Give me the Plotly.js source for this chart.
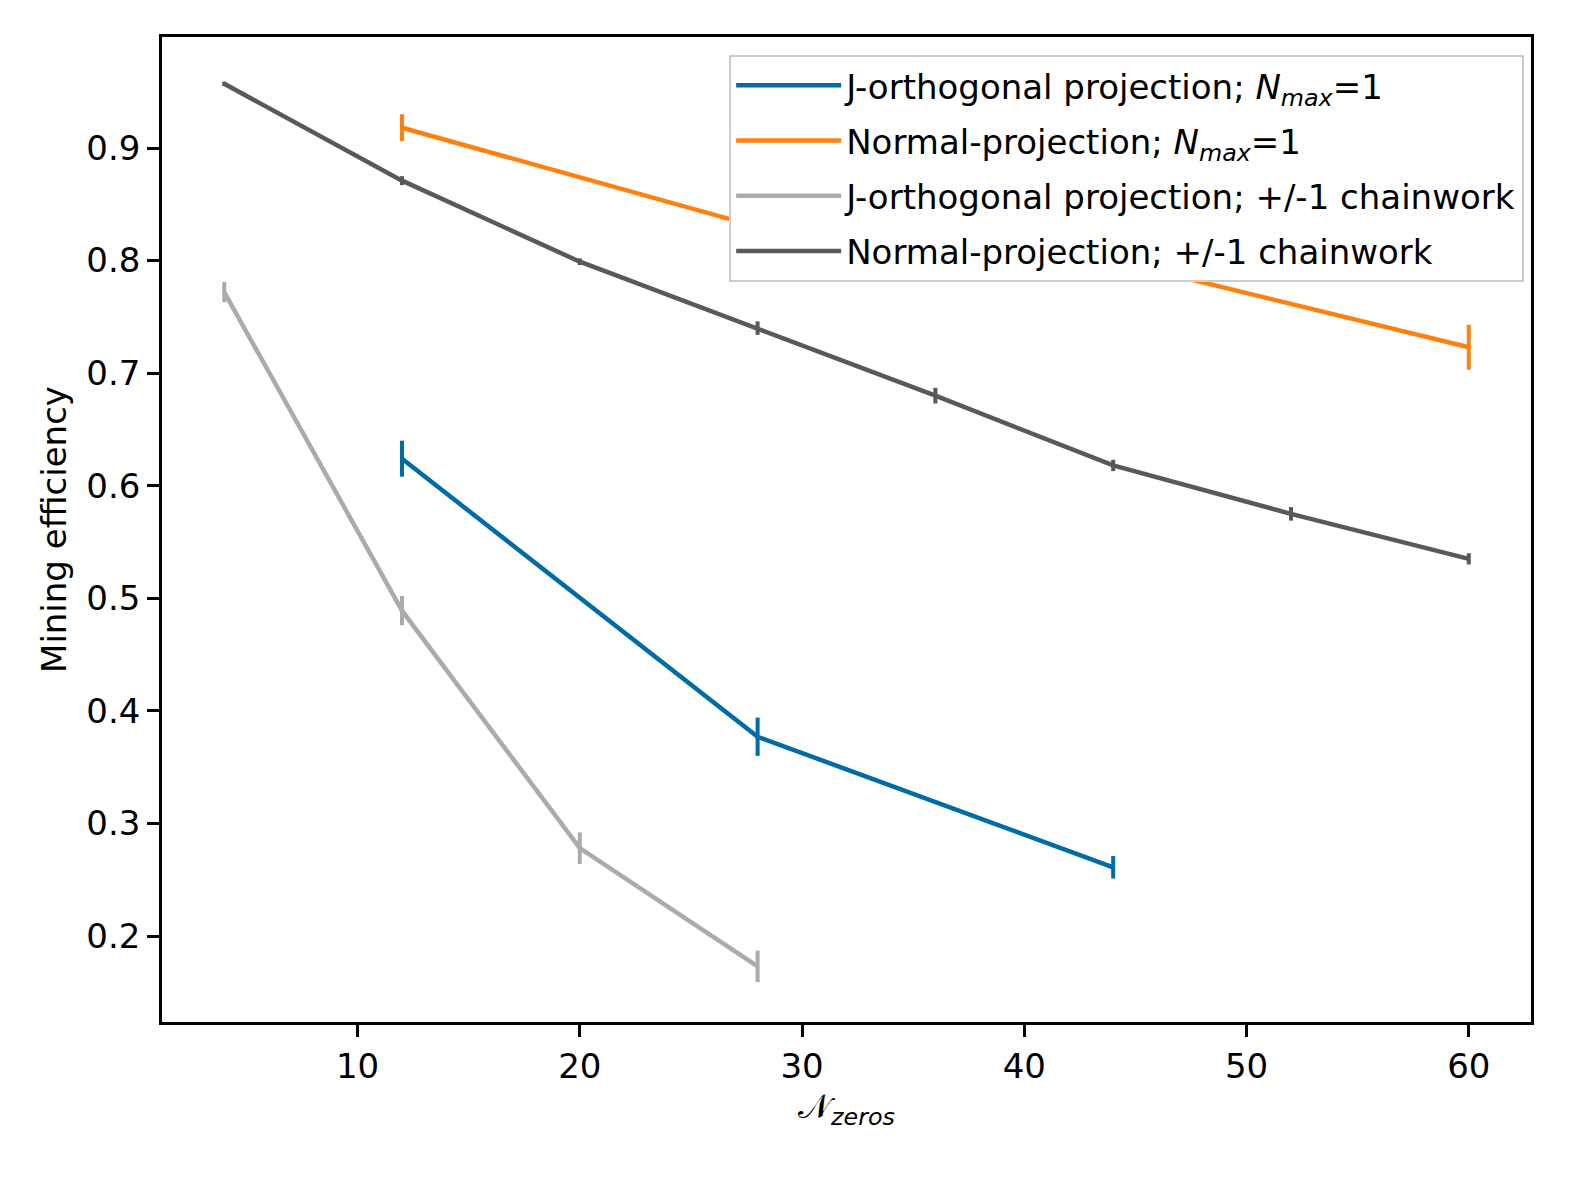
<!DOCTYPE html>
<html>
<head>
<meta charset="utf-8">
<script src="https://cdn.plot.ly/plotly-3.0.1.min.js"></script>
<style>
  body { margin: 0; padding: 0; background: #fff; }
  #plot { width: 1577px; height: 1183px; }
</style>
</head>
<body>
<div id="plot"></div>
<script>
// J-orthogonal projection; N_max=1
var jorthX = [12, 28, 44];
var jorthY = [0.624, 0.377, 0.261];
var jorthErr = [0.016, 0.017, 0.010];

// Normal-projection; N_max=1
var normX = [12, 28, 44, 60];
var normY = [0.918, 0.830, 0.800, 0.723];
var normErr = [0.012, 0.015, 0.015, 0.020];

// J-orthogonal projection; +/-1 chainwork
var jorthChainX = [4, 12, 20, 28];
var jorthChainY = [0.772, 0.489, 0.278, 0.173];
var jorthChainErr = [0.009, 0.013, 0.014, 0.014];

// Normal-projection; +/-1 chainwork
var normChainX = [4, 12, 20, 28, 36, 44, 52, 60];
var normChainY = [0.957, 0.871, 0.799, 0.740, 0.680, 0.618, 0.575, 0.535];
var normChainErr = [0.002, 0.004, 0.003, 0.006, 0.007, 0.005, 0.006, 0.005];

var yTicks = [0.2, 0.3, 0.4, 0.5, 0.6, 0.7, 0.8, 0.9];
var xTicks = [10, 20, 30, 40, 50, 60];

function trace(x, y, err, name, color) {
  return {
    x: x,
    y: y,
    name: name,
    legendgroup: name, // one group per trace so tracegroupgap spaces the rows
    type: "scatter",
    mode: "lines",
    line: {color: color, width: 4.5},
    error_y: {type: "data", array: err, visible: true, color: color, thickness: 4, width: 0}
  };
}

var data = [
  trace(jorthX, jorthY, jorthErr, "J-orthogonal projection; <i>N</i><sub><i>max</i></sub>=1", "#006BA4"),
  trace(normX, normY, normErr, "Normal-projection; <i>N</i><sub><i>max</i></sub>=1", "#FF800E"),
  trace(jorthChainX, jorthChainY, jorthChainErr, "J-orthogonal projection; +/-1 chainwork", "#ABABAB"),
  trace(normChainX, normChainY, normChainErr, "Normal-projection; +/-1 chainwork", "#595959")
];

var axisStyle = {
  showline: true,
  linecolor: "#000",
  linewidth: 2.5,
  mirror: true,
  showgrid: false,
  zeroline: false,
  ticks: "outside",
  ticklen: 12,
  tickwidth: 2.5,
  tickcolor: "#000",
  tickfont: {family: "DejaVu Sans", size: 34, color: "#000"}
};

var layout = {
  width: 1577,
  height: 1183,
  margin: {l: 162, r: 46, t: 37, b: 161},
  paper_bgcolor: "#fff",
  plot_bgcolor: "#fff",
  font: {family: "DejaVu Sans", size: 34, color: "#000"},
  showlegend: true,
  xaxis: Object.assign({}, axisStyle, {
    range: [1.2, 62.8],
    tickmode: "array",
    tickvals: xTicks,
    ticktext: xTicks.map(String),
    automargin: false,
    title: {
      text: "𝒩<sub><i>zeros</i></sub>",
      font: {family: "DejaVu Sans", size: 34, color: "#000"},
      standoff: 10
    }
  }),
  yaxis: Object.assign({}, axisStyle, {
    range: [0.1236, 0.9986],
    tickmode: "array",
    tickvals: yTicks,
    ticktext: yTicks.map(function (v) { return v.toFixed(1); }),
    automargin: false,
    title: {
      text: "Mining efficiency",
      font: {family: "DejaVu Sans", size: 34, color: "#000"},
      standoff: 10
    }
  }),
  legend: {
    x: 0.995,
    y: 0.982,
    xanchor: "right",
    yanchor: "top",
    bgcolor: "#ffffff",
    bordercolor: "#cccccc",
    borderwidth: 2,
    font: {family: "DejaVu Sans", size: 34, color: "#000"},
    tracegroupgap: 8,
    itemwidth: 105
  }
};

Plotly.newPlot("plot", data, layout, {displayModeBar: false});
</script>
</body>
</html>
